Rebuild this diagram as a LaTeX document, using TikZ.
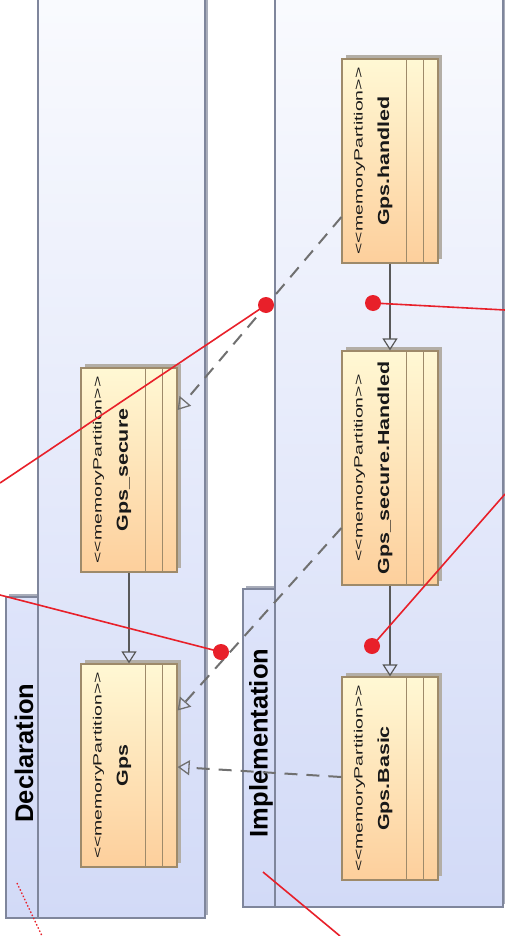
\documentclass[tikz,border=0pt]{standalone}
\usepackage{fontspec}
\setmainfont{Liberation Sans}
\usetikzlibrary{arrows.meta, shadows, calc}

\definecolor{pkgtop}{HTML}{FAFBFE}
\definecolor{pkgmid}{HTML}{DEE4FA}
\definecolor{pkgbottom}{HTML}{D2DAF7}
\definecolor{pkgline}{HTML}{7F869C}
\definecolor{pkgshadow}{HTML}{A9ADBA}
\definecolor{parttop}{HTML}{FFF8D4}
\definecolor{partbottom}{HTML}{FDCF9C}
\definecolor{partline}{HTML}{9E8A6A}
\definecolor{partshadow}{HTML}{B3AEA6}
\definecolor{linkgrey}{HTML}{595959}
\definecolor{dashgrey}{HTML}{707070}
\definecolor{annored}{HTML}{E8202A}

\newcommand{\stereo}{\scalebox{1.62}[1]{\fontsize{12}{12}\selectfont <\kern0pt<memoryPartition>\kern0pt>}}
\newcommand{\mpname}[1]{\scalebox{1.34}[1]{\fontsize{16}{16}\selectfont\bfseries #1}}

\begin{document}
\begin{tikzpicture}[x=1pt, y=-1pt,
  pkg/.style={draw=pkgline, line width=1.5pt, top color=pkgtop, bottom color=pkgbottom,
    drop shadow={shadow xshift=3pt, shadow yshift=3pt, fill=pkgshadow, opacity=1}},
  pkgtab/.style={pkg, top color=pkgmid},
  pkglabel/.style={rotate=90, inner sep=0pt, font=\fontsize{25.5}{25.5}\selectfont\bfseries},
  part/.style={draw=partline, line width=1.2pt, top color=parttop, bottom color=partbottom,
    minimum width=96pt, inner sep=0pt,
    drop shadow={shadow xshift=4pt, shadow yshift=4pt, fill=partshadow, opacity=1},
    path picture={\draw[partline, line width=1pt]
      ([xshift=-32pt]path picture bounding box.north east) -- ([xshift=-32pt]path picture bounding box.south east)
      ([xshift=-15pt]path picture bounding box.north east) -- ([xshift=-15pt]path picture bounding box.south east);}},
  partlabel/.style={rotate=90, inner sep=0pt, text=black!90},
  gen/.style={draw=linkgrey, line width=1.3pt, -{Triangle[open, width=15pt, length=12pt, line width=1.2pt]}},
  dep/.style={draw=dashgrey, line width=2pt, dash pattern=on 13pt off 9pt,
    -{Triangle[open, width=15pt, length=12pt, line width=1.3pt]}},
  reddot/.style={circle, fill=annored, minimum size=16pt, inner sep=0pt},
  annoline/.style={draw=annored, line width=1.6pt}]

\useasboundingbox (0,0) rectangle (505,936);
\clip (0,0) rectangle (505,936);
\fill[white] (0,0) rectangle (505,936);

% packages
\path[pkgtab] (6,597) rectangle (38,918);
\path[pkg] (38,-20) rectangle (205,918);
\path[pkgtab] (243,589) rectangle (275,907);
\path[pkg] (275,-20) rectangle (503,907);
\node[pkglabel] (declaration) at (24,753) {Declaration};
\node[pkglabel] (implementation) at (261,743) {Implementation};

% memory partitions
\node[part, minimum height=204pt] (handled) at (390,161) {};
\node[part, minimum height=234pt] (sechandled) at (390,468) {};
\node[part, minimum height=203pt] (basic) at (390,778.5) {};
\node[part, minimum height=204pt] (secure) at (129,470) {};
\node[part, minimum height=203pt] (gps) at (129,765.5) {};

\foreach \p/\t in {handled/Gps.handled, sechandled/Gps\_secure.Handled, basic/Gps.Basic,
    secure/Gps\_secure, gps/Gps}{
  \node[partlabel] (\p-st) at ([xshift=18pt]\p.west) {\stereo};
  \node[partlabel] (\p-name) at ([xshift=43.5pt]\p.west) {\mpname{\t}};
}

% generalizations
\draw[gen] (handled.south) -- (sechandled.north);
\draw[gen] (sechandled.south) -- (basic.north);
\draw[gen] (secure.south) -- (gps.north);

% dependencies
\draw[dep] ([yshift=-56pt]handled.west) -- ([yshift=60pt]secure.east);
\draw[dep] ([yshift=-60pt]sechandled.west) -- ([yshift=55pt]gps.east);
\draw[dep] ([yshift=1.5pt]basic.west) -- ([yshift=-1.5pt]gps.east);

% red markers
\node[reddot] (dotA) at (266,305) {};
\node[reddot] (dotB) at (221,652) {};
\node[reddot] (dotC) at (373,303) {};
\node[reddot] (dotD) at (372,646) {};
\coordinate (endA) at (0,483);
\coordinate (endB) at (0,595);
\coordinate (endC) at (505,310);
\coordinate (endD) at (505,494);
\coordinate (startE) at (263,872);
\coordinate (endE) at (340,936);
\coordinate (startF) at (17,883);
\coordinate (endF) at (42,936);
\draw[annoline] (dotA.center) -- (endA);
\draw[annoline] (dotB.center) -- (endB);
\draw[annoline] (dotC.center) -- (endC);
\draw[annoline] (dotD.center) -- (endD);
\draw[annoline] (startE) -- (endE);
\draw[annoline, line width=1.3pt, dash pattern=on 1.5pt off 2pt] (startF) -- (endF);
\end{tikzpicture}
\end{document}
